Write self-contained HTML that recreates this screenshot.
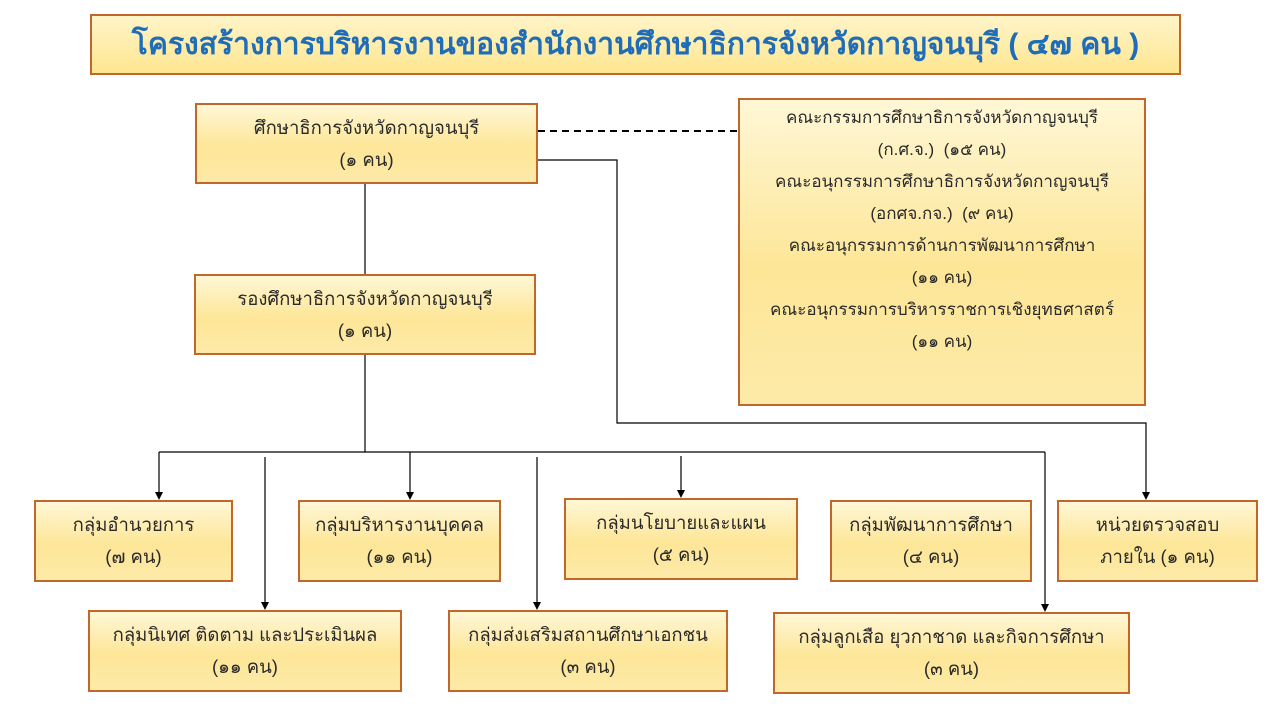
<!DOCTYPE html>
<html><head><meta charset="utf-8"><style>
body{margin:0;width:1280px;height:720px;background:#fff;position:relative;overflow:hidden;font-family:"Liberation Sans","DejaVu Sans",sans-serif;color:#2a2a2a}
.b{position:absolute;box-sizing:border-box;border:2px solid #c2672a;background:linear-gradient(#fff7d6,#fde697 55%,#fdeaa8);text-align:center;font-size:18.5px;line-height:32px;padding-top:7px}
.t{position:absolute;left:90px;top:14px;width:1091px;height:61px;box-sizing:border-box;border:2px solid #c2672a;background:linear-gradient(#fff4c8,#fde690);color:#1f6cb8;font-weight:bold;font-size:30px;text-align:center;line-height:57px}
svg{position:absolute;left:0;top:0}
</style></head><body>
<svg width="1280" height="720">
<g stroke="#000" stroke-width="1.2" fill="none">
<line x1="538" y1="131" x2="738" y2="131" stroke-dasharray="7,5" stroke-width="2"/>
<path d="M538 160H617V423H1146V494"/>
<line x1="365" y1="184" x2="365" y2="274"/>
<line x1="365" y1="355" x2="365" y2="452"/>
<line x1="159" y1="452" x2="1045" y2="452"/>
<line x1="159" y1="452" x2="159" y2="494"/>
<line x1="410" y1="452" x2="410" y2="494"/>
<line x1="681" y1="456" x2="681" y2="492"/>
<line x1="265" y1="457" x2="265" y2="604"/>
<line x1="537" y1="457" x2="537" y2="604"/>
<line x1="1045" y1="452" x2="1045" y2="606"/>
</g>
<g fill="#000">
<path d="M1142,492h8l-4,8z"/>
<path d="M155,492h8l-4,8z"/>
<path d="M406,492h8l-4,8z"/>
<path d="M677,490h8l-4,8z"/>
<path d="M261,602h8l-4,8z"/>
<path d="M533,602h8l-4,8z"/>
<path d="M1041,604h8l-4,8z"/>
</g></svg>
<div class="t">โครงสร้างการบริหารงานของสำนักงานศึกษาธิการจังหวัดกาญจนบุรี ( ๔๗ คน )</div>
<div class="b" style="left:195px;top:103px;width:343px;height:81px">ศึกษาธิการจังหวัดกาญจนบุรี<br>(๑ คน)</div>
<div class="b" style="left:738px;top:98px;width:408px;height:308px;font-size:17px;line-height:32px;padding-top:2px">คณะกรรมการศึกษาธิการจังหวัดกาญจนบุรี<br>(ก.ศ.จ.) &nbsp;(๑๕ คน)<br>คณะอนุกรรมการศึกษาธิการจังหวัดกาญจนบุรี<br>(อกศจ.กจ.) &nbsp;(๙ คน)<br>คณะอนุกรรมการด้านการพัฒนาการศึกษา<br>(๑๑ คน)<br>คณะอนุกรรมการบริหารราชการเชิงยุทธศาสตร์<br>(๑๑ คน)</div>
<div class="b" style="left:194px;top:274px;width:342px;height:81px">รองศึกษาธิการจังหวัดกาญจนบุรี<br>(๑ คน)</div>
<div class="b" style="left:34px;top:500px;width:199px;height:82px">กลุ่มอำนวยการ<br>(๗ คน)</div>
<div class="b" style="left:298px;top:500px;width:203px;height:82px">กลุ่มบริหารงานบุคคล<br>(๑๑ คน)</div>
<div class="b" style="left:564px;top:498px;width:234px;height:82px">กลุ่มนโยบายและแผน<br>(๕ คน)</div>
<div class="b" style="left:830px;top:500px;width:202px;height:82px">กลุ่มพัฒนาการศึกษา<br>(๔ คน)</div>
<div class="b" style="left:1057px;top:500px;width:201px;height:82px">หน่วยตรวจสอบ<br>ภายใน (๑ คน)</div>
<div class="b" style="left:88px;top:610px;width:314px;height:82px">กลุ่มนิเทศ ติดตาม และประเมินผล<br>(๑๑ คน)</div>
<div class="b" style="left:448px;top:610px;width:280px;height:82px">กลุ่มส่งเสริมสถานศึกษาเอกชน<br>(๓ คน)</div>
<div class="b" style="left:773px;top:612px;width:357px;height:82px">กลุ่มลูกเสือ ยุวกาชาด และกิจการศึกษา<br>(๓ คน)</div>
</body></html>
